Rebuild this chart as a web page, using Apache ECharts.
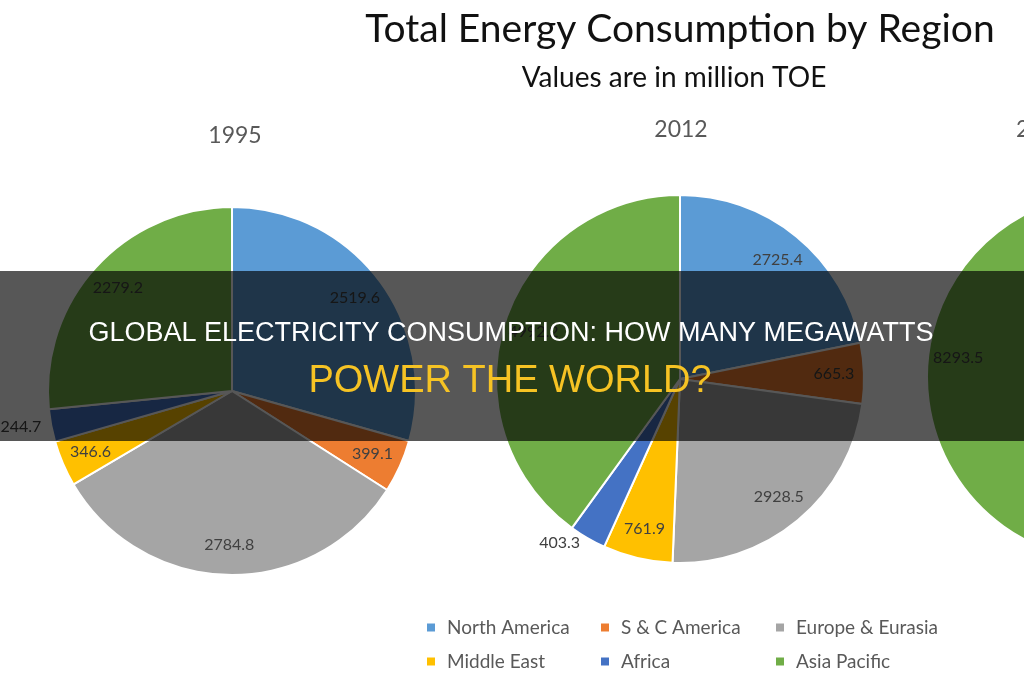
<!DOCTYPE html>
<html>
<head>
<meta charset="utf-8">
<title>Total Energy Consumption by Region</title>
<script src="https://cdn.jsdelivr.net/npm/echarts@6/dist/echarts.min.js"></script>
<style>
    html, body { margin: 0; padding: 0; background: #fff; }
    #main { width: 1024px; height: 680px; }
</style>
</head>
<body>
<div id="main"></div>
<script>
//地区
var regions = ['North America', 'S & C America', 'Europe & Eurasia', 'Middle East', 'Africa', 'Asia Pacific'];
var regionColors = ['#5b9bd5', '#ed7d31', '#a5a5a5', '#ffc000', '#4472c4', '#70ad47'];
//年份
var years = ['1995', '2012', '2035'];
//数值 million TOE
var values1995 = [2519.6, 399.1, 2784.8, 346.6, 244.7, 2279.2];
var values2012 = [2725.4, 665.3, 2928.5, 761.9, 403.3, 4992.2];
//第三个饼图只露出亚太部分，其余为估计值
var values2035 = [3000.0, 1050.0, 3300.0, 1450.0, 900.0, 8293.5];
//小扇区标签放到外面
var outsideLabel = { '1995': ['Africa'], '2012': ['Africa'], '2035': [] };

var bannerLine1 = 'GLOBAL ELECTRICITY CONSUMPTION: HOW MANY MEGAWATTS';
var bannerLine2 = 'POWER THE WORLD?';

var chartFont = 'Lato, "Open Sans", sans-serif';
var pieRadius = 184;
var pieCenters = [[232, 391], [680, 379], [1111, 377]];

function buildData(vals, year) {
    var list = [];
    for (var i = 0; i < regions.length; i++) {
        var item = { name: regions[i], value: vals[i] };
        if (outsideLabel[year].indexOf(regions[i]) >= 0) {
            item.label = { position: 'outside' };
        }
        list.push(item);
    }
    return list;
}

var allValues = [values1995, values2012, values2035];
var series = [];
//饼图本体
for (var k = 0; k < years.length; k++) {
    series.push({
        name: years[k],
        type: 'pie',
        center: pieCenters[k],
        radius: [0, pieRadius],
        startAngle: 90,
        clockwise: true,
        silent: true,
        label: { show: false },
        labelLine: { show: false },
        itemStyle: { borderColor: '#fff', borderWidth: 2 },
        emphasis: { disabled: true },
        data: buildData(allValues[k], years[k])
    });
}
//标签层 (透明环，标签放在约0.82半径处)
for (var k = 0; k < years.length; k++) {
    series.push({
        name: years[k] + ' labels',
        type: 'pie',
        center: pieCenters[k],
        radius: [118, pieRadius],
        startAngle: 90,
        clockwise: true,
        silent: true,
        avoidLabelOverlap: false,
        itemStyle: { color: 'rgba(0,0,0,0)', borderWidth: 0 },
        label: {
            show: true,
            position: 'inside',
            color: '#404040',
            fontSize: 16,
            fontFamily: chartFont,
            formatter: function (p) { return p.value.toFixed(1); }
        },
        labelLine: { show: false, length: 5, length2: 0 },
        emphasis: { disabled: true },
        data: buildData(allValues[k], years[k])
    });
}

//图例 两行三列，每项单独定位
var legends = [];
var legendLefts = [425, 599, 774];
var legendTops = [618, 652];
for (var i = 0; i < regions.length; i++) {
    legends.push({
        left: legendLefts[i % 3],
        top: legendTops[Math.floor(i / 3)],
        padding: 0,
        itemWidth: 10,
        itemHeight: 10,
        icon: 'rect',
        selectedMode: false,
        textStyle: { color: '#595959', fontSize: 19, fontFamily: chartFont, padding: [0, 0, 0, 6] },
        data: [regions[i]]
    });
}

var myChart = echarts.init(document.getElementById('main'), null, { renderer: 'canvas' });
var option = {
    backgroundColor: '#fff',
    animation: false,
    color: regionColors,
    legend: legends,
    graphic: [
        { type: 'text', x: 680, y: 29, style: { text: 'Total Energy Consumption by Region', fill: '#111', font: '39px ' + chartFont, textAlign: 'center', textVerticalAlign: 'middle' } },
        { type: 'text', x: 674, y: 78, style: { text: 'Values are in million TOE', fill: '#111', font: '28px ' + chartFont, textAlign: 'center', textVerticalAlign: 'middle' } },
        { type: 'text', x: 235, y: 136, style: { text: years[0], fill: '#595959', font: '23px ' + chartFont, textAlign: 'center', textVerticalAlign: 'middle' } },
        { type: 'text', x: 681, y: 130, style: { text: years[1], fill: '#595959', font: '23px ' + chartFont, textAlign: 'center', textVerticalAlign: 'middle' } },
        { type: 'text', x: 1016, y: 130, style: { text: years[2], fill: '#595959', font: '23px ' + chartFont, textAlign: 'left', textVerticalAlign: 'middle' } },
        //遮罩条
        { type: 'rect', z: 100, shape: { x: 0, y: 271, width: 1024, height: 170 }, style: { fill: 'rgba(0,0,0,0.66)' } },
        { type: 'text', z: 101, x: 511, y: 334, style: { text: bannerLine1, fill: '#fff', font: '27px "Liberation Sans", Arial, sans-serif', textAlign: 'center', textVerticalAlign: 'middle' } },
        { type: 'text', z: 101, x: 510, y: 382, style: { text: bannerLine2, fill: '#f6c324', font: '38px "Liberation Sans", Arial, sans-serif', textAlign: 'center', textVerticalAlign: 'middle' } }
    ],
    series: series
};
myChart.setOption(option);
</script>
</body>
</html>
